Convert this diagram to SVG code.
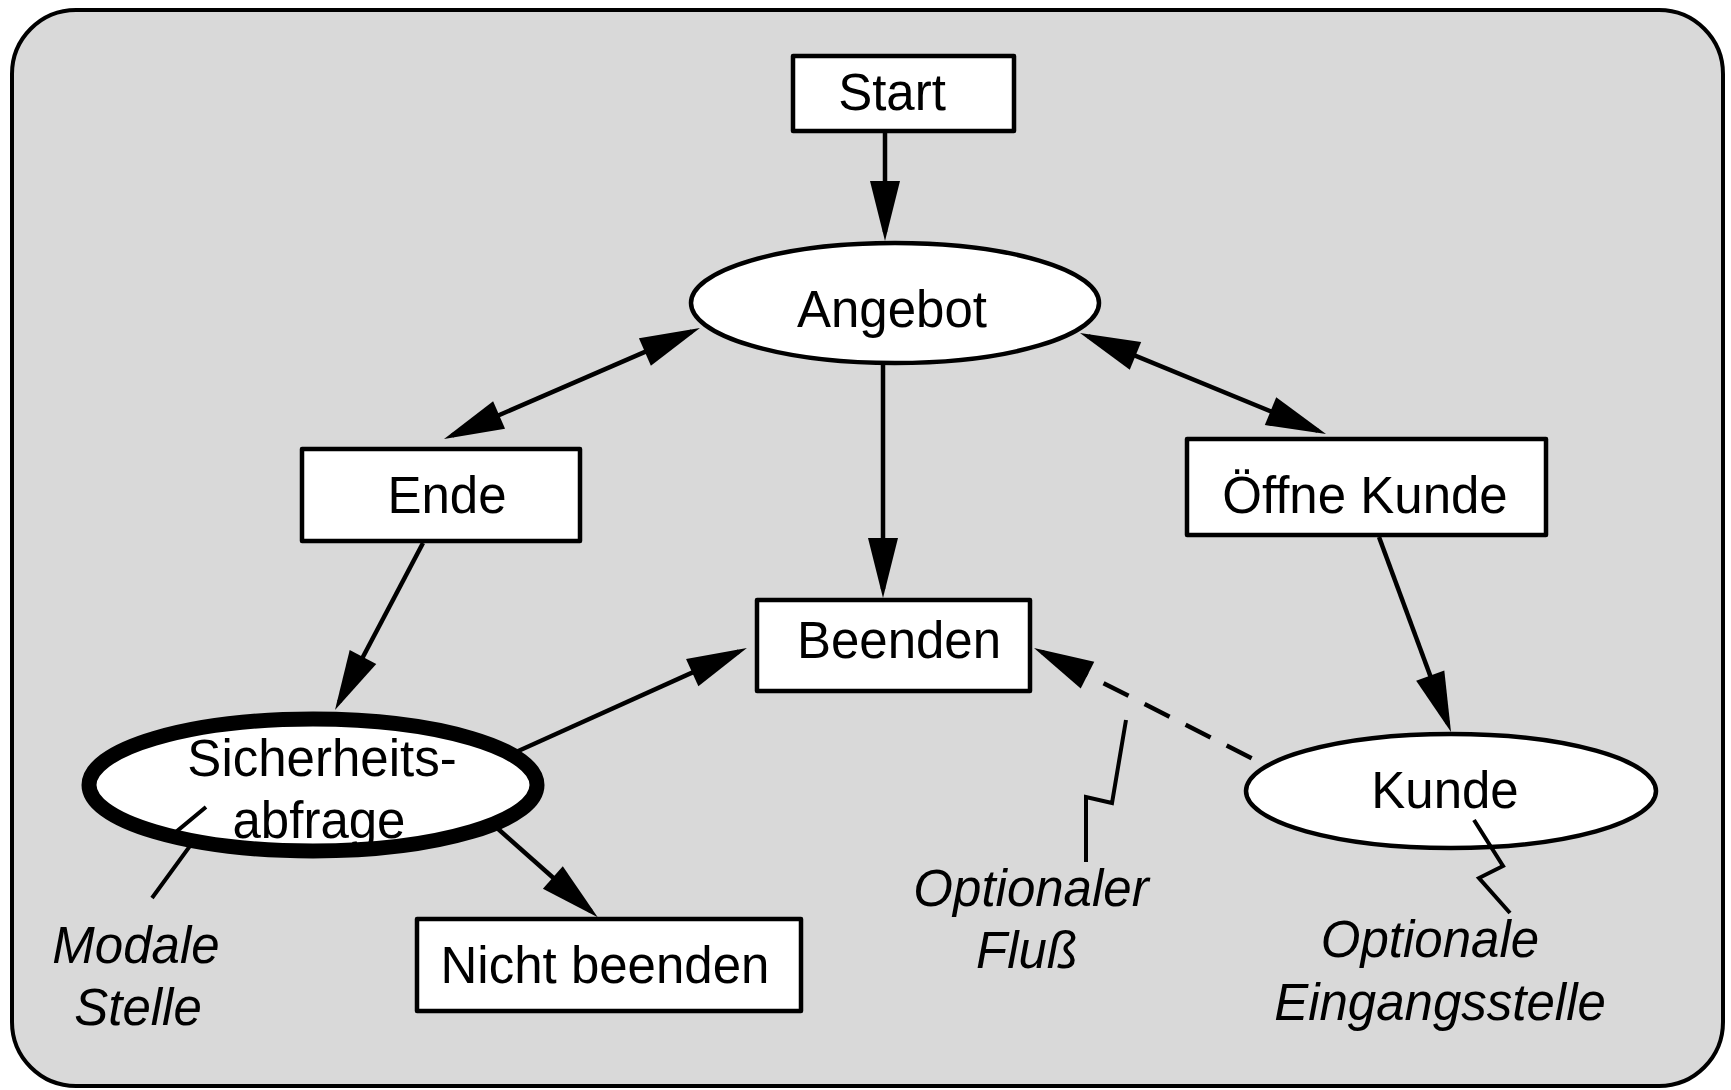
<svg xmlns="http://www.w3.org/2000/svg" width="1731" height="1090" viewBox="0 0 1731 1090">
  <style>
    .frame { fill: #d9d9d9; stroke: #000; stroke-width: 4; }
    .box { fill: #fff; stroke: #000; stroke-width: 4.5; stroke-linejoin: round; }
    .oval { fill: #fff; stroke: #000; stroke-width: 4.5; }
    .modal { fill: #fff; stroke: #000; stroke-width: 15; }
    .lbl { font-family: "Liberation Sans", Arial, sans-serif; font-size: 51px; fill: #000; text-anchor: middle; }
    .note { font-family: "Liberation Sans", Arial, sans-serif; font-size: 51px; font-style: italic; fill: #000; text-anchor: middle; }
    .edge { fill: none; stroke: #000; stroke-width: 4.5; }
    .dashed { stroke-dasharray: 28 18; stroke-dashoffset: 31; }
    .leader { fill: none; stroke: #000; stroke-width: 4; stroke-linejoin: miter; }
  </style>
  <defs>
    <marker id="head" markerUnits="userSpaceOnUse" markerWidth="60" markerHeight="30" refX="51" refY="15" orient="auto-start-reverse" overflow="visible">
      <path d="M0,0 L60,15 L0,30 z" fill="#000"/>
    </marker>
  </defs>

  <!-- rounded grey panel -->
  <rect class="frame" x="12" y="10" width="1711" height="1076" rx="64" ry="64"/>

  <!-- flow connectors -->
  <g id="connectors">
    <line class="edge" x1="885" y1="133" x2="885" y2="232" marker-end="url(#head)"/>
    <line class="edge" x1="883" y1="363" x2="883" y2="589" marker-end="url(#head)"/>
    <line class="edge" x1="452.3" y1="435.4" x2="691.7" y2="331.6" marker-start="url(#head)" marker-end="url(#head)"/>
    <line class="edge" x1="1088.3" y1="336.4" x2="1317.7" y2="430.6" marker-start="url(#head)" marker-end="url(#head)"/>
    <line class="edge" x1="423" y1="543" x2="339.2" y2="702" marker-end="url(#head)"/>
    <line class="edge" x1="1379" y1="537" x2="1447.9" y2="723.5" marker-end="url(#head)"/>
    <line class="edge" x1="505" y1="757" x2="738.7" y2="651.6" marker-end="url(#head)"/>
    <line class="edge" x1="488" y1="820" x2="591" y2="911.3" marker-end="url(#head)"/>
    <path class="edge dashed" d="M1265,765 L1042,652" marker-end="url(#head)"/>
  </g>

  <!-- states -->
  <g id="start">
    <rect class="box" x="793" y="56" width="221" height="75"/>
    <text class="lbl" x="892" y="110">Start</text>
  </g>
  <g id="angebot">
    <ellipse class="oval" cx="895" cy="303" rx="204" ry="60"/>
    <text class="lbl" x="892" y="327">Angebot</text>
  </g>
  <g id="ende">
    <rect class="box" x="302" y="449" width="278" height="92"/>
    <text class="lbl" x="447" y="513">Ende</text>
  </g>
  <g id="oeffne-kunde">
    <rect class="box" x="1187" y="439" width="359" height="96"/>
    <text class="lbl" x="1365" y="513">Öffne Kunde</text>
  </g>
  <g id="beenden">
    <rect class="box" x="757" y="600" width="273" height="91"/>
    <text class="lbl" x="899" y="658">Beenden</text>
  </g>
  <g id="sicherheitsabfrage">
    <ellipse class="modal" cx="313" cy="785" rx="224" ry="66"/>
    <text class="lbl" x="322" y="776">Sicherheits-</text>
    <text class="lbl" x="319" y="838">abfrage</text>
  </g>
  <g id="nicht-beenden">
    <rect class="box" x="417" y="919" width="384" height="92"/>
    <text class="lbl" x="605" y="983">Nicht beenden</text>
  </g>
  <g id="kunde">
    <ellipse class="oval" cx="1451" cy="791" rx="205" ry="57"/>
    <text class="lbl" x="1445" y="808">Kunde</text>
  </g>

  <!-- annotations with zig-zag leaders -->
  <g id="note-modale-stelle">
    <polyline class="leader" points="206,807 176,832 190,846 152,898"/>
    <text class="note" x="136" y="963">Modale</text>
    <text class="note" x="138" y="1025">Stelle</text>
  </g>
  <g id="note-optionaler-fluss">
    <polyline class="leader" points="1126,720 1112,803 1086,797 1086,862"/>
    <text class="note" x="1031" y="906">Optionaler</text>
    <text class="note" x="1027" y="968">Fluß</text>
  </g>
  <g id="note-optionale-eingangsstelle">
    <polyline class="leader" points="1474,820 1503,866 1479,878 1510,913"/>
    <text class="note" x="1430" y="957">Optionale</text>
    <text class="note" x="1440" y="1020">Eingangsstelle</text>
  </g>
</svg>
